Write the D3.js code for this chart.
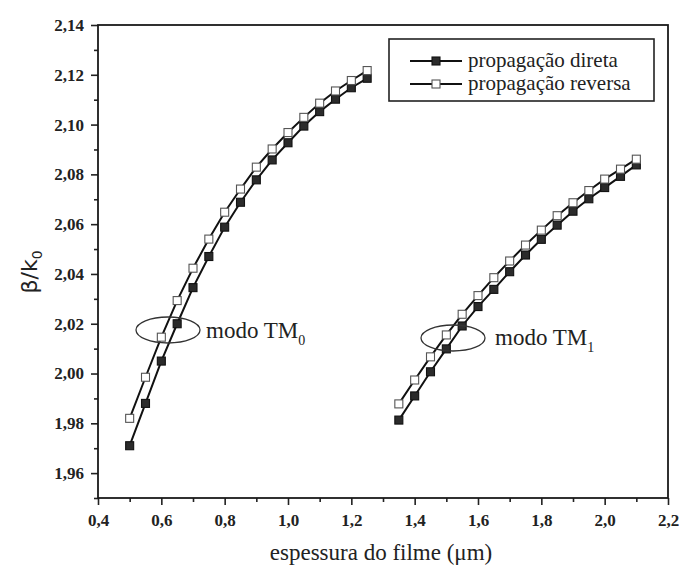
<!DOCTYPE html>
<html>
<head>
<meta charset="utf-8">
<script src="https://cdn.jsdelivr.net/npm/d3@7"></script>
<style>
  html, body { margin: 0; padding: 0; background: #fff; }
  svg { display: block; }
</style>
</head>
<body>
<svg id="chart" width="679" height="572"></svg>
<script>
// Film thickness (µm) for the two guided modes
const thicknessTM0 = [0.50, 0.55, 0.60, 0.65, 0.70, 0.75, 0.80, 0.85, 0.90, 0.95, 1.00, 1.05, 1.10, 1.15, 1.20, 1.25];
const thicknessTM1 = [1.35, 1.40, 1.45, 1.50, 1.55, 1.60, 1.65, 1.70, 1.75, 1.80, 1.85, 1.90, 1.95, 2.00, 2.05, 2.10];

// Effective index β/k0, forward propagation (filled squares)
const directTM0 = [1.971, 1.988, 2.005, 2.020, 2.0345, 2.047, 2.0588, 2.0688, 2.0778, 2.0858, 2.0927, 2.0994, 2.1052, 2.1102, 2.1148, 2.1186];
const directTM1 = [1.9813, 1.991, 2.0007, 2.0099, 2.0191, 2.0269, 2.0338, 2.0409, 2.0476, 2.0539, 2.0596, 2.0652, 2.0702, 2.0747, 2.0792, 2.0838];

// Effective index β/k0, reverse propagation (open squares)
const reverseTM0 = [1.982, 1.9985, 2.0146, 2.0293, 2.0423, 2.054, 2.0648, 2.0741, 2.0829, 2.0902, 2.0968, 2.1029, 2.1086, 2.1135, 2.1177, 2.1217];
const reverseTM1 = [1.9878, 1.9974, 2.0067, 2.0155, 2.0238, 2.0313, 2.0385, 2.0452, 2.0516, 2.0576, 2.0634, 2.0686, 2.0735, 2.0781, 2.0821, 2.0861];

const xTicks = [0.4, 0.6, 0.8, 1.0, 1.2, 1.4, 1.6, 1.8, 2.0, 2.2];
const yTicks = [1.96, 1.98, 2.00, 2.02, 2.04, 2.06, 2.08, 2.10, 2.12, 2.14];
const legendLabels = ["propagação direta", "propagação reversa"];

const SERIF = "'Liberation Serif', 'Times New Roman', serif";

const svg = d3.select("#chart");
const m = { left: 98, right: 668, top: 25, bottom: 498 };

const x = d3.scaleLinear().domain([0.4, 2.2]).range([m.left, m.right]);
const y = d3.scaleLinear().domain([1.95, 2.14]).range([m.bottom, m.top]);

const comma = d => d3.format(".2f")(d).replace(".", ",");
const commaX = d => d3.format(".1f")(d).replace(".", ",");

// Axes: major ticks with labels plus unlabeled minor ticks
const xMinor = d3.range(0.5, 2.2, 0.2).map(v => +v.toFixed(2));
const yMinor = d3.range(1.95, 2.14, 0.02).map(v => +v.toFixed(2));

svg.append("g").attr("class", "axis").attr("transform", `translate(0,${m.bottom})`)
  .call(d3.axisBottom(x).tickValues(xTicks).tickFormat(commaX).tickSize(7).tickPadding(9));
svg.append("g").attr("class", "axis").attr("transform", `translate(0,${m.bottom})`)
  .call(d3.axisBottom(x).tickValues(xMinor).tickFormat("").tickSize(4));

svg.append("g").attr("class", "axis").attr("transform", `translate(${m.left},0)`)
  .call(d3.axisLeft(y).tickValues(yTicks).tickFormat(comma).tickSize(7).tickPadding(7));
svg.append("g").attr("class", "axis").attr("transform", `translate(${m.left},0)`)
  .call(d3.axisLeft(y).tickValues(yMinor).tickFormat("").tickSize(4));

svg.selectAll(".axis").attr("font-family", SERIF).attr("font-size", 17);
svg.selectAll(".domain").remove();
svg.selectAll(".tick line").attr("stroke", "#222").attr("stroke-width", 1.6);
svg.selectAll(".tick text")
  .style("font-family", SERIF).style("font-weight", "bold").style("font-size", "17px")
  .attr("fill", "#222");

// Plot frame
svg.append("rect")
  .attr("x", m.left).attr("y", m.top)
  .attr("width", m.right - m.left).attr("height", m.bottom - m.top)
  .attr("fill", "none").attr("stroke", "#1a1a1a").attr("stroke-width", 1.8);

// Curves
const line = d3.line().x(d => x(d[0])).y(d => y(d[1]));
const series = [
  { xs: thicknessTM0, ys: directTM0, filled: true },
  { xs: thicknessTM0, ys: reverseTM0, filled: false },
  { xs: thicknessTM1, ys: directTM1, filled: true },
  { xs: thicknessTM1, ys: reverseTM1, filled: false }
];
const sq = 8;
series.forEach(s => {
  const pts = s.xs.map((v, i) => [v, s.ys[i]]);
  svg.append("path").datum(pts).attr("d", line)
    .attr("fill", "none").attr("stroke", "#111").attr("stroke-width", 2);
});
series.forEach(s => {
  const pts = s.xs.map((v, i) => [v, s.ys[i]]);
  svg.append("g").selectAll("rect").data(pts).join("rect")
    .attr("x", d => x(d[0]) - sq / 2).attr("y", d => y(d[1]) - sq / 2)
    .attr("width", sq).attr("height", sq)
    .attr("fill", s.filled ? "#2b2b2b" : "#fff")
    .attr("stroke", s.filled ? "#111" : "#555").attr("stroke-width", 1.1);
});

// Mode annotations: ellipse around the curves and label
function modeLabel(cx, cy, tx, ty, sub) {
  svg.append("ellipse").attr("cx", cx).attr("cy", cy).attr("rx", 32).attr("ry", 13)
    .attr("fill", "none").attr("stroke", "#333").attr("stroke-width", 1.3);
  const t = svg.append("text").attr("x", tx).attr("y", ty)
    .attr("font-family", SERIF).attr("font-size", 23).attr("fill", "#222");
  t.append("tspan").text("modo TM");
  t.append("tspan").attr("font-size", 14).attr("dy", 7).text(sub);
}
modeLabel(168, 330, 206, 338, "0");
modeLabel(453, 338, 495, 345, "1");

// Legend
const lg = svg.append("g");
lg.append("rect").attr("x", 389).attr("y", 39).attr("width", 265).attr("height", 62)
  .attr("fill", "#fff").attr("stroke", "#222").attr("stroke-width", 1.6);
legendLabels.forEach((label, i) => {
  const cy = 61 + i * 23;
  lg.append("line").attr("x1", 410).attr("x2", 462).attr("y1", cy).attr("y2", cy)
    .attr("stroke", "#111").attr("stroke-width", 2);
  lg.append("rect").attr("x", 436 - sq / 2).attr("y", cy - sq / 2).attr("width", sq).attr("height", sq)
    .attr("fill", i === 0 ? "#2b2b2b" : "#fff").attr("stroke", i === 0 ? "#111" : "#555").attr("stroke-width", 1.1);
  lg.append("text").attr("x", 468).attr("y", cy + 6)
    .attr("font-family", SERIF).attr("font-size", 21).attr("fill", "#222").text(label);
});

// Axis titles
svg.append("text").attr("x", 381).attr("y", 560).attr("text-anchor", "middle")
  .attr("font-family", SERIF).attr("font-size", 23).attr("fill", "#222")
  .text("espessura do filme (μm)");

const yt = svg.append("text").attr("transform", "translate(37,272) rotate(-90)")
  .attr("text-anchor", "middle")
  .attr("font-family", "'DejaVu Sans', 'Noto Sans', sans-serif")
  .attr("font-size", 22).attr("fill", "#222");
yt.append("tspan").text("β/k");
yt.append("tspan").attr("font-size", 14).attr("dy", 5).text("0");
</script>
</body>
</html>
